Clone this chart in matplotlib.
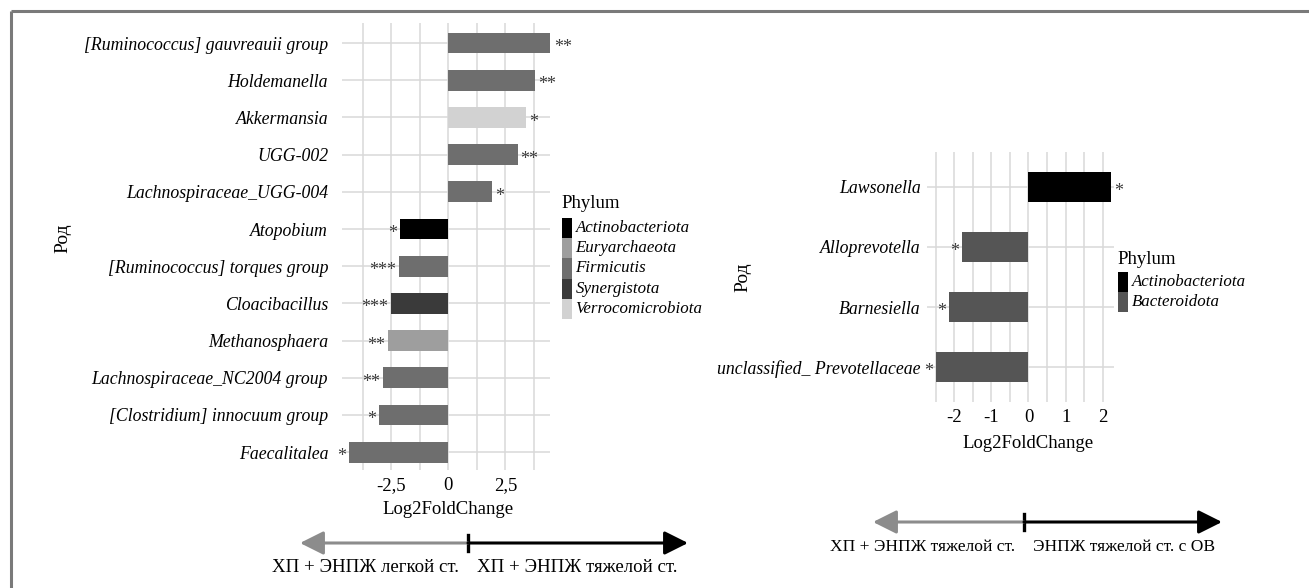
import matplotlib
matplotlib.use('Agg')
import matplotlib.pyplot as plt
from matplotlib.patches import Rectangle
from matplotlib.ticker import MultipleLocator

plt.rcParams['font.family'] = 'Liberation Serif'

W, H = 1309, 588

# left panel: ХП + ЭНПЖ легкой vs тяжелой ст. (top to bottom)
genus_1 = ['[Ruminococcus] gauvreauii group', 'Holdemanella', 'Akkermansia', 'UGG-002',
           'Lachnospiraceae_UGG-004', 'Atopobium', '[Ruminococcus] torques group',
           'Cloacibacillus', 'Methanosphaera', 'Lachnospiraceae_NC2004 group',
           '[Clostridium] innocuum group', 'Faecalitalea']
lfc_1 = [4.5, 3.79, 3.41, 3.04, 1.92, -2.12, -2.16, -2.51, -2.64, -2.86, -3.04, -4.36]
sig_1 = ['**', '**', '*', '**', '*', '*', '***', '***', '**', '**', '*', '*']
phylum_1 = ['Firmicutis', 'Firmicutis', 'Verrocomicrobiota', 'Firmicutis', 'Firmicutis',
            'Actinobacteriota', 'Firmicutis', 'Synergistota', 'Euryarchaeota', 'Firmicutis',
            'Firmicutis', 'Firmicutis']
legend_1 = ['Actinobacteriota', 'Euryarchaeota', 'Firmicutis', 'Synergistota', 'Verrocomicrobiota']

# right panel: ХП + ЭНПЖ тяжелой ст. vs ЭНПЖ тяжелой ст. с ОВ
genus_2 = ['Lawsonella', 'Alloprevotella', 'Barnesiella', 'unclassified_ Prevotellaceae']
lfc_2 = [2.23, -1.79, -2.13, -2.48]
sig_2 = ['*', '*', '*', '*']
phylum_2 = ['Actinobacteriota', 'Bacteroidota', 'Bacteroidota', 'Bacteroidota']
legend_2 = ['Actinobacteriota', 'Bacteroidota']

colors_1 = {'Actinobacteriota': '#000000', 'Euryarchaeota': '#9e9e9e', 'Firmicutis': '#6e6e6e',
            'Synergistota': '#3a3a3a', 'Verrocomicrobiota': '#d2d2d2'}
colors_2 = {'Actinobacteriota': '#000000', 'Bacteroidota': '#555555'}

grid_col = '#d9d9d9'
star_col = '#3c3c3c'


def px_box(x0, y0, x1, y1):
    return [x0 / W, 1 - y1 / H, (x1 - x0) / W, (y1 - y0) / H]


def bar_panel(fig, box, genus, lfc, sig, phylum, colors, xlim, ylim, major, minor,
              bar_h, ypad, ylab_xy, xlab_xy):
    ax = fig.add_axes(px_box(*box))
    n = len(genus)
    ypos = [n - 1 - i for i in range(n)]
    ax.barh(ypos, lfc, height=bar_h, color=[colors[p] for p in phylum], zorder=2)
    for y, v, s in zip(ypos, lfc, sig):
        if v >= 0:
            ax.annotate(s, (v, y), xytext=(2, -3.3), textcoords='offset points',
                        ha='left', va='center', fontsize=13, color=star_col,
                        annotation_clip=False)
        else:
            ax.annotate(s, (v, y), xytext=(-2, -3.3), textcoords='offset points',
                        ha='right', va='center', fontsize=13, color=star_col,
                        annotation_clip=False)
    ax.set_xlim(*xlim)
    ax.set_ylim(*ylim)
    ax.xaxis.set_major_locator(MultipleLocator(major))
    ax.xaxis.set_minor_locator(MultipleLocator(minor))
    ticks = [t for t in ax.get_xticks() if xlim[0] <= t <= xlim[1]]
    ax.set_xticks(ticks)
    ax.set_xticklabels([('%g' % t).replace('.', ',') for t in ticks], fontsize=13.5)
    ax.set_yticks(ypos)
    ax.set_yticklabels(genus, fontstyle='italic', fontsize=12.8)
    ax.tick_params(axis='both', which='both', length=0)
    ax.tick_params(axis='x', pad=5)
    ax.tick_params(axis='y', pad=ypad)
    ax.grid(True, which='both', axis='x', color=grid_col, lw=1.1)
    ax.grid(True, which='major', axis='y', color=grid_col, lw=1.1)
    ax.set_axisbelow(True)
    for sp in ax.spines.values():
        sp.set_visible(False)
    bw = box[2] - box[0]
    bh = box[3] - box[1]
    ax.set_ylabel('Род', fontsize=14, va='center')
    ax.yaxis.set_label_coords((ylab_xy[0] - box[0]) / bw, (box[3] - ylab_xy[1]) / bh)
    ax.set_xlabel('Log2FoldChange', fontsize=13.5, va='center')
    ax.xaxis.set_label_coords((xlab_xy[0] - box[0]) / bw, (box[3] - xlab_xy[1]) / bh)
    return ax


fig = plt.figure(figsize=(W / 100, H / 100), dpi=100)

bar_panel(fig, (342, 23, 550, 470), genus_1, lfc_1, sig_1, phylum_1, colors_1,
          (-4.65, 4.45), (-0.48, 11.54), 2.5, 1.25, 0.56, 10, (63, 238), (448, 510))
bar_panel(fig, (927, 152, 1114, 402), genus_2, lfc_2, sig_2, phylum_2, colors_2,
          (-2.73, 2.3), (-0.58, 3.58), 1, 0.5, 0.5, 4.5, (743, 277), (1028, 443))

# overlay in pixel coordinates for legends, arrows and frame
ov = fig.add_axes([0, 0, 1, 1])
ov.set_xlim(0, W)
ov.set_ylim(H, 0)
ov.axis('off')


def legend(x, y_title, y0, names, colors):
    ov.text(x - 1, y_title, 'Phylum', fontsize=13.5, ha='left', va='center')
    for i, name in enumerate(names):
        ov.add_patch(Rectangle((x, y0 + i * 20.2), 10, 20.2, color=colors[name], lw=0))
        ov.text(x + 13.5, y0 + i * 20.2 + 10, name, fontsize=12.2, fontstyle='italic',
                ha='left', va='center')


legend(562, 203, 218, legend_1, colors_1)
legend(1118, 259, 272, legend_2, colors_2)


def direction(y, x_left, x_mid, x_right, txt_left, txt_right, ty, fs):
    head = dict(arrowstyle='-|>,head_length=0.4,head_width=0.2', mutation_scale=36,
                lw=2.2, shrinkA=0, shrinkB=0)
    ov.annotate('', xy=(x_left, y), xytext=(x_mid, y),
                arrowprops=dict(color='#8c8c8c', **head))
    ov.annotate('', xy=(x_right, y), xytext=(x_mid, y),
                arrowprops=dict(color='black', **head))
    ov.plot([x_mid, x_mid], [y - 8, y + 8], color='black', lw=2.4)
    ov.text(x_mid - 9, ty, txt_left, fontsize=fs, ha='right', va='center')
    ov.text(x_mid + 9, ty, txt_right, fontsize=fs, ha='left', va='center')


direction(543, 300, 468, 688, 'ХП + ЭНПЖ легкой ст.', 'ХП + ЭНПЖ тяжелой ст.', 567, 13.6)
direction(522, 873, 1024, 1222, 'ХП + ЭНПЖ тяжелой ст.', 'ЭНПЖ тяжелой ст. с ОВ', 547, 12.6)

# frame (top and left edges only)
ov.plot([10.8, W], [10.8, 10.8], color='#7a7a7a', lw=2.2, solid_capstyle='butt')
ov.plot([10.8, 10.8], [10.8, H], color='#7a7a7a', lw=2.2, solid_capstyle='butt')

fig.savefig('out.png', dpi=100)
